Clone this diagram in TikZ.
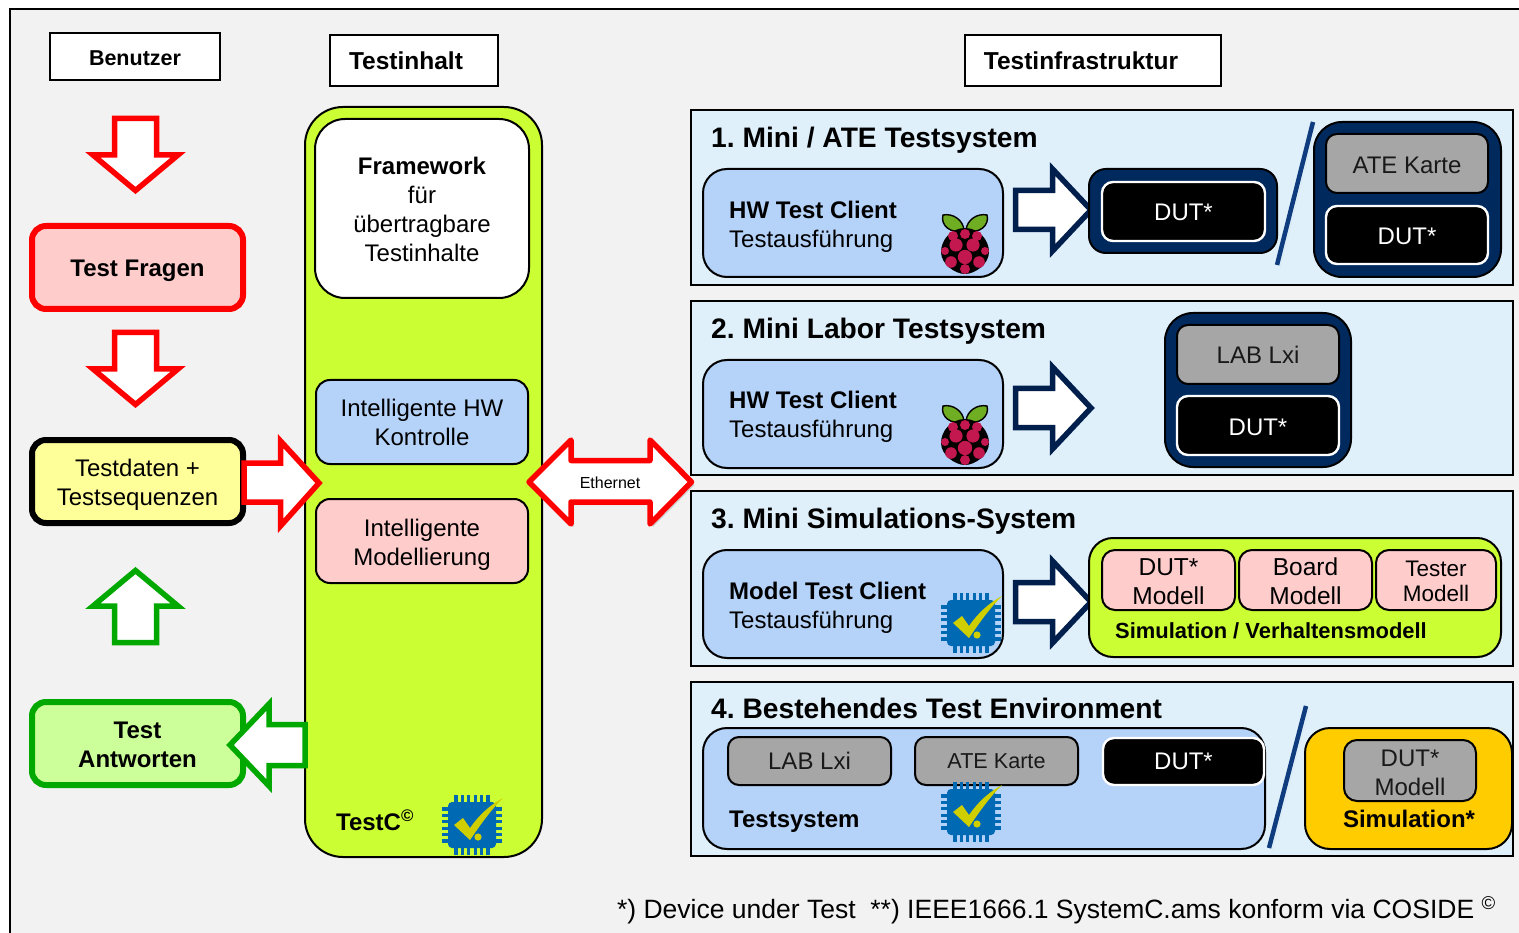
\documentclass[tikz,border=0pt]{standalone}
\usepackage{fontspec}
\setmainfont{Liberation Sans}
\usetikzlibrary{shadows,calc}
\frenchspacing
\definecolor{pagebg}{HTML}{F2F2F2}
\definecolor{panelbg}{HTML}{DFF0FB}
\definecolor{clientbg}{HTML}{B5D2F9}
\definecolor{lime}{HTML}{CCFF33}
\definecolor{pinkbg}{HTML}{FFCCCC}
\definecolor{navy}{HTML}{002A5E}
\definecolor{arrownavy}{HTML}{001F4D}
\definecolor{slashblue}{HTML}{0F3C7E}
\definecolor{greybox}{HTML}{A6A6A6}
\definecolor{ygold}{HTML}{FFCC00}
\definecolor{okgreen}{HTML}{00A800}
\definecolor{paleyellow}{HTML}{FFFF99}
\definecolor{palegreen}{HTML}{CCFF99}
\definecolor{chipblue}{HTML}{0069B4}
\definecolor{checky}{HTML}{CFCF00}
\definecolor{berry}{HTML}{C2174F}
\definecolor{leaf}{HTML}{6FAE22}
\newcommand\fs[2]{\fontsize{#1}{#2}\selectfont}
\newcommand\dn[1]{\rule{0pt}{#1pt}}
% \bx[style]{name}{x1}{y1}{x2}{y2}{text}
\newcommand\bx[7][]{%
  \pgfmathsetmacro\bxw{#5-#3}\pgfmathsetmacro\bxh{#6-#4}%
  \pgfmathsetmacro\bxx{(#3+#5)/2}\pgfmathsetmacro\bxy{(#4+#6)/2}%
  \node[boxbase,#1,minimum width=\bxw pt,minimum height=\bxh pt] (#2) at (\bxx,\bxy) {#7};}
\tikzset{
  boxbase/.style={draw=black,line width=2pt,inner sep=0pt,outer sep=0pt,align=center,text=black},
  head/.style={fill=white,line width=1.6pt,font=\fs{24.5}{29}\bfseries},
  userbox/.style={line width=6pt,rounded corners=14pt,font=\fs{24}{29}},
  panel/.style={fill=panelbg,line width=2pt},
  inhalt/.style={rounded corners=14pt,font=\fs{24}{29}},
  client/.style={fill=clientbg,rounded corners=24pt},
  navybox/.style={fill=navy,rounded corners=22pt},
  dutbox/.style={fill=black,draw=white,line width=2.4pt,rounded corners=11pt,text=white,font=\fs{24}{29}},
  greyb/.style={fill=greybox,rounded corners=11pt,text=black!90,font=\fs{24}{29}},
  pinkb/.style={fill=pinkbg,rounded corners=13pt,font=\fs{24.5}{29}},
  title/.style={anchor=mid west,inner sep=0pt,font=\fs{28.2}{32}\bfseries},
  clienttext/.style={anchor=mid west,inner sep=0pt,font=\fs{24}{29}},
  blockred/.style={draw=red,fill=white,line width=5.5pt,miter limit=10},
  blockgreen/.style={draw=okgreen,fill=white,line width=5.5pt,miter limit=10},
  blocknavy/.style={draw=arrownavy,fill=white,line width=5.5pt,miter limit=10},
  slash/.style={draw=slashblue,line width=4.5pt,drop shadow={shadow xshift=3pt,shadow yshift=-3pt,opacity=.25}},
  chip/.pic={
    \foreach \t in {-16,-9.6,-3.2,3.2,9.6,16}{
      \fill[chipblue] (\t-1.6,-30) rectangle (\t+1.6,30);
      \fill[chipblue] (-30,\t-1.6) rectangle (30,\t+1.6);
    }
    \fill[chipblue,rounded corners=4pt] (-24,-23) rectangle (24,23);
    \fill[checky] (-18,0) -- (-9,-7) -- (-2,3) .. controls (7,-10) and (18,-20) .. (31,-27)
       .. controls (17,-13) and (7,2) .. (-2,15) -- cycle;
    \fill[checky] (6,12) circle (3.6);
  },
  raspberry/.pic={
    \draw[black,fill=leaf,line width=1.4pt] (-1,-20) .. controls (-2,-30) and (-12,-37) .. (-22,-35)
       .. controls (-25,-25) and (-14,-15) .. (-1,-20) -- cycle;
    \draw[black,fill=leaf,line width=1.4pt] (1,-20) .. controls (2,-30) and (12,-37) .. (22,-35)
       .. controls (25,-25) and (14,-15) .. (1,-20) -- cycle;
    \fill[black] (0,-22) .. controls (14,-22) and (24,-10) .. (24,2) .. controls (24,14) and (10,24) .. (0,24)
       .. controls (-10,24) and (-24,14) .. (-24,2) .. controls (-24,-10) and (-14,-22) .. (0,-22) -- cycle;
    \foreach \a/\b/\r in {-12/-14/5,0/-16/5,12/-14/5,-9/-5/6.6,8/-5/6.6,-20/1/4,20/1/4,0/7/7.2,-14/12/5.8,14/12/5.8,0/19/5}{
      \fill[berry] (\a,\b) circle (\r);
    }
  }
}
\begin{document}
\begin{tikzpicture}[x=1pt,y=-1pt]
\useasboundingbox (0,0) rectangle (1519,933);
\fill[pagebg] (10,9) rectangle (1519,933);
\draw[black,line width=2pt] (1519,9) -- (10,9) -- (10,933);

% column headers
\bx[head,font=\fs{21.5}{26}\bfseries]{benutzer}{50}{33}{220}{80}{\dn{18}Benutzer}
\bx[head]{inhalt}{330}{35}{498}{86}{Testinhalt\hspace{16pt}}
\bx[head]{infra}{965}{35}{1221}{86}{Testinfrastruktur\hspace{24pt}}

% left column
\draw[blockred] (114.5,118.5) -- (156.5,118.5) -- (156.5,155) -- (178,155) -- (135.5,190.5) -- (93,155) -- (114.5,155) -- cycle;
\bx[userbox,draw=red,fill=pinkbg,font=\fs{24}{29}\bfseries]{fragen}{32}{226}{243}{309}{\dn{23}Test Fragen}
\draw[blockred] (114.5,332.5) -- (156.5,332.5) -- (156.5,369) -- (178,369) -- (135.5,404.5) -- (93,369) -- (114.5,369) -- cycle;
\bx[userbox,draw=black,fill=paleyellow]{daten}{32}{440}{243}{523}{\dn{23}Testdaten +\\Testsequenzen}
\draw[blockgreen] (114.5,642.5) -- (156.5,642.5) -- (156.5,606) -- (178,606) -- (135.5,570.5) -- (93,606) -- (114.5,606) -- cycle;
\bx[userbox,draw=okgreen,fill=palegreen,font=\fs{24}{29}\bfseries]{antworten}{32}{702}{243}{785}{\dn{19}Test\\Antworten}

% central panel
\bx[fill=lime,rounded corners=38pt]{testc}{305}{107}{542}{857}{}
\bx[fill=white,rounded corners=30pt,font=\fs{24}{29}]{framework}{315}{119}{529}{298}{\dn{19}\textbf{Framework}\\für\\übertragbare\\Testinhalte}
\bx[inhalt,fill=clientbg]{hwk}{316}{380}{528}{464}{\dn{19}Intelligente HW\\Kontrolle}
\bx[inhalt,fill=pinkbg]{model}{316}{499}{528}{583}{\dn{24}Intelligente\\Modellierung}
\node[anchor=mid,inner sep=0pt,font=\fs{24}{29}\bfseries] (testclabel) at (375,828) {TestC\textsuperscript{©}};
\pic at (472,825) {chip};

% arrows between columns
\draw[blockred] (244,463) -- (280.5,463) -- (280.5,441) -- (319,483) -- (280.5,526) -- (280.5,502) -- (244,502) -- cycle;
\draw[blockgreen] (305,724.5) -- (269,724.5) -- (269,704) -- (230,745) -- (269,786) -- (269,765.5) -- (305,765.5) -- cycle;
\draw[draw=red,fill=white,line width=5.5pt,line join=round,drop shadow={shadow xshift=3pt,shadow yshift=-3pt,opacity=.3}]
  (529,482) -- (571,440) -- (571,460.5) -- (650,460.5) -- (650,440) -- (691.5,482) -- (650,524) -- (650,502) -- (571,502) -- (571,524) -- cycle;
\node[inner sep=0pt,font=\fs{16}{18}] (ethernet) at (610,483) {Ethernet};

% panels
\bx[panel]{p1}{691}{110}{1513}{285}{}
\bx[panel]{p2}{691}{301}{1513}{475}{}
\bx[panel]{p3}{691}{491}{1513}{666}{}
\bx[panel]{p4}{691}{682}{1513}{856}{}
\node[title] (t1) at (711,145) {1. Mini / ATE Testsystem};
\node[title] (t2) at (711,336) {2. Mini Labor Testsystem};
\node[title] (t3) at (711,526) {3. Mini Simulations-System};
\node[title] (t4) at (711,716) {4. Bestehendes Test Environment};

% panel 1
\bx[client]{c1}{703}{169}{1003}{277}{}
\node[clienttext,font=\fs{24}{29}\bfseries] (c1a) at (729,216) {HW Test Client};
\node[clienttext] (c1b) at (729,245) {Testausführung};
\pic at (965,250) {raspberry};
\draw[blocknavy] (1015.5,190.5) -- (1052.5,190.5) -- (1052.5,169) -- (1091,210) -- (1052.5,251) -- (1052.5,229.5) -- (1015.5,229.5) -- cycle;
\bx[navybox,rounded corners=17pt]{n1}{1089}{169}{1277}{253}{}
\bx[dutbox]{d1}{1102}{182}{1265}{241}{\dn{19}DUT*}
\draw[slash] (1277,265) -- (1313,122);
\bx[navybox,rounded corners=28pt]{n1b}{1314}{122}{1501}{277}{}
\bx[greyb]{ate1}{1326}{134}{1488}{193}{\dn{21}ATE Karte}
\bx[dutbox]{d1b}{1326}{206}{1488}{264}{\dn{19}DUT*}

% panel 2
\bx[client]{c2}{703}{360}{1003}{468}{}
\node[clienttext,font=\fs{24}{29}\bfseries] (c2a) at (729,406) {HW Test Client};
\node[clienttext] (c2b) at (729,435) {Testausführung};
\pic at (965,441) {raspberry};
\draw[blocknavy] (1015.5,388.5) -- (1052.5,388.5) -- (1052.5,367) -- (1091,408) -- (1052.5,449) -- (1052.5,427.5) -- (1015.5,427.5) -- cycle;
\bx[navybox,rounded corners=28pt]{n2}{1165}{313}{1351}{467}{}
\bx[greyb]{lab2}{1177}{325}{1339}{384}{LAB Lxi}
\bx[dutbox]{d2}{1177}{396}{1339}{455}{\dn{21}DUT*}

% panel 3
\bx[client]{c3}{703}{550}{1003}{658}{}
\node[clienttext,font=\fs{24}{29}\bfseries] (c3a) at (729,597) {Model Test Client};
\node[clienttext] (c3b) at (729,626) {Testausführung};
\pic at (971,623) {chip};
\draw[blocknavy] (1015.5,582.5) -- (1052.5,582.5) -- (1052.5,561) -- (1091,602) -- (1052.5,643) -- (1052.5,621.5) -- (1015.5,621.5) -- cycle;
\bx[fill=lime,rounded corners=24pt]{sim}{1089}{538}{1501}{657}{}
\bx[pinkb]{pd}{1102}{550}{1235}{610}{\dn{21}DUT*\\Modell}
\bx[pinkb]{pb}{1239}{550}{1372}{610}{\dn{21}Board\\Modell}
\bx[pinkb,font=\fs{22.5}{25}]{pt}{1376}{550}{1496}{610}{\dn{19}Tester\\Modell}
\node[anchor=mid west,inner sep=0pt,font=\fs{21.9}{26}\bfseries] (simlabel) at (1115,636) {Simulation / Verhaltensmodell};

% panel 4
\bx[client]{c4}{703}{728}{1265}{849}{}
\bx[greyb]{lab4}{728}{737}{891}{785}{LAB Lxi}
\bx[greyb,font=\fs{21.6}{26}]{ate4}{915}{737}{1078}{785}{ATE Karte}
\bx[dutbox]{d4}{1103}{738}{1264}{785}{DUT*}
\node[clienttext,font=\fs{24}{29}\bfseries] (c4a) at (729,825) {Testsystem};
\pic at (971,812) {chip};
\draw[slash] (1269,848) -- (1306,706);
\bx[fill=ygold,rounded corners=25pt]{yb}{1305}{728}{1512}{849}{}
\bx[greyb,rounded corners=13pt]{dm}{1344}{740}{1476}{801}{\dn{21}DUT*\\Modell}
\node[inner sep=0pt,font=\fs{24}{29}\bfseries] (simstar) at (1409,819) {Simulation*};

% footnote
\node[anchor=mid east,inner sep=0pt,font=\fs{26.5}{29}] (foot) at (1496,916) {*) Device under Test\ \ **) IEEE1666.1 SystemC.ams konform via COSIDE \textsuperscript{©}};
\end{tikzpicture}
\end{document}
